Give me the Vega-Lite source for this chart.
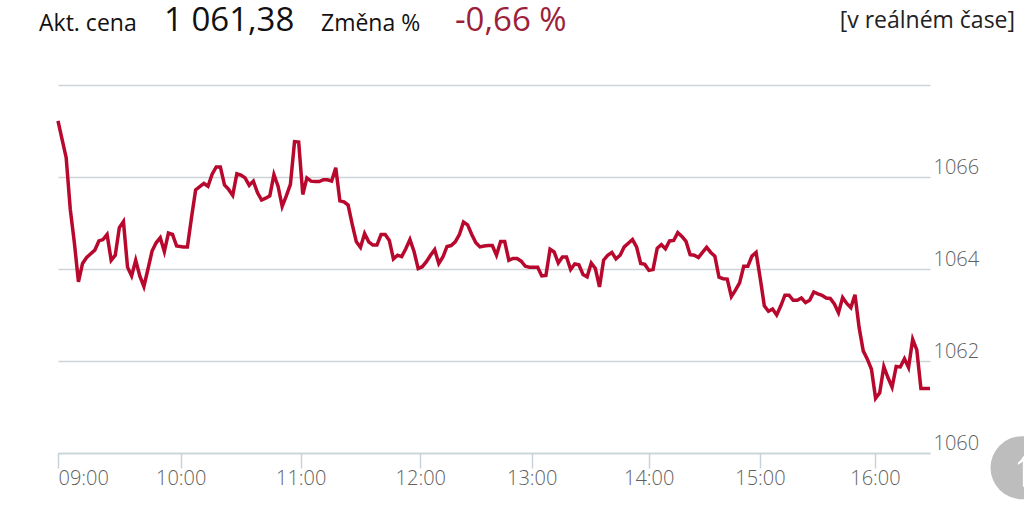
{"$schema":"https://vega.github.io/schema/vega-lite/v6.json","width":872,"height":368,"autosize":{"type":"none"},"padding":{"left":58,"top":85,"right":94,"bottom":53},"background":"white","config":{"view":{"stroke":null},"font":"Open Sans"},
"encoding":{"x":{"field":"m","type":"quantitative","title":null,"scale":{"domain":[540,600,987.9],"range":[0,122.7,872],"nice":false,"zero":false},"axis":{"orient":"bottom","values":[540,600,662.12,724.04,781.71,842.27,899.89,959.42],"labelExpr":"(datum.value<570?'0':'')+round(datum.value/60)+':00'","grid":false,"domain":true,"domainColor":"#c8d2d8","domainWidth":1.5,"tickColor":"#c8d2d8","tickWidth":1.5,"tickSize":15,"labelFontSize":20,"labelColor":"#5f5f5f","labelFontWeight":300,"labelPadding":0,"labelFlush":true,"labelOverlap":false}},
"y":{"field":"p","type":"quantitative","title":null,"scale":{"domain":[1060,1068],"nice":false,"zero":false},"axis":{"orient":"right","values":[1060,1062,1064,1066,1068],"labelExpr":"datum.value<1068?format(datum.value,'d'):''","grid":true,"gridColor":"#ccd4d8","gridWidth":1.5,"domain":false,"ticks":false,"labelFontSize":20,"labelColor":"#5f5f5f","labelFontWeight":300,"labelPadding":3,"labelBaseline":"bottom","labelOffset":0}}},
"layer":[
{"data":{"name":"prices","values":[
{"m":540,"p":1067.22},{"m":542,"p":1066.82},{"m":544,"p":1066.42},{"m":546,"p":1065.3},{"m":548,"p":1064.57},{"m":550,"p":1063.72},{"m":552,"p":1064.12},{"m":554,"p":1064.25},{"m":556,"p":1064.33},{"m":558,"p":1064.41},{"m":560,"p":1064.61},{"m":562,"p":1064.64},{"m":564,"p":1064.75},{"m":566,"p":1064.19},{"m":568,"p":1064.3},{"m":570,"p":1064.9},{"m":572,"p":1065.03},{"m":574,"p":1064.04},{"m":576,"p":1063.85},{"m":578,"p":1064.19},{"m":580,"p":1063.85},{"m":582,"p":1063.62},{"m":584,"p":1064.0},{"m":586,"p":1064.39},{"m":588,"p":1064.57},{"m":590,"p":1064.68},{"m":592,"p":1064.38},{"m":594,"p":1064.78},{"m":596,"p":1064.75},{"m":598,"p":1064.5},
{"m":601.33,"p":1064.48},{"m":603.47,"p":1064.48},{"m":605.6,"p":1065.12},{"m":607.73,"p":1065.72},{"m":609.87,"p":1065.79},{"m":612,"p":1065.86},{"m":614.13,"p":1065.8},{"m":616.27,"p":1066.06},{"m":618.4,"p":1066.22},{"m":620.53,"p":1066.22},{"m":622.67,"p":1065.83},{"m":624.8,"p":1065.73},{"m":626.93,"p":1065.6},{"m":629.07,"p":1066.07},{"m":631.2,"p":1066.04},
{"m":633.33,"p":1065.98},{"m":635.47,"p":1065.82},{"m":637.6,"p":1065.91},{"m":639.73,"p":1065.66},{"m":641.87,"p":1065.5},{"m":644,"p":1065.54},{"m":646.13,"p":1065.59},{"m":648.27,"p":1066.05},{"m":650.4,"p":1065.8},{"m":652.53,"p":1065.36},{"m":654.67,"p":1065.59},{"m":656.8,"p":1065.84},{"m":658.93,"p":1066.77},{"m":661.07,"p":1066.76},{"m":663.2,"p":1065.62},
{"m":665.33,"p":1065.98},{"m":667.47,"p":1065.91},{"m":669.6,"p":1065.9},{"m":671.73,"p":1065.9},{"m":673.87,"p":1065.94},{"m":676,"p":1065.94},{"m":678.13,"p":1065.91},{"m":680.27,"p":1066.2},{"m":682.4,"p":1065.48},{"m":684.53,"p":1065.46},{"m":686.67,"p":1065.39},{"m":688.8,"p":1064.97},{"m":690.93,"p":1064.59},{"m":693.07,"p":1064.47},{"m":695.2,"p":1064.77},
{"m":697.33,"p":1064.59},{"m":699.47,"p":1064.52},{"m":701.6,"p":1064.52},{"m":703.73,"p":1064.75},{"m":705.87,"p":1064.75},{"m":708,"p":1064.62},{"m":710.13,"p":1064.22},{"m":712.27,"p":1064.3},{"m":714.4,"p":1064.27},{"m":716.53,"p":1064.44},{"m":718.67,"p":1064.64},{"m":720.8,"p":1064.38},{"m":722.93,"p":1064.01},{"m":725.07,"p":1064.05},{"m":727.2,"p":1064.16},
{"m":729.33,"p":1064.3},{"m":731.47,"p":1064.42},{"m":733.6,"p":1064.12},{"m":735.73,"p":1064.26},{"m":737.87,"p":1064.49},{"m":740,"p":1064.51},{"m":742.13,"p":1064.59},{"m":744.27,"p":1064.75},{"m":746.4,"p":1065.02},{"m":748.53,"p":1064.96},{"m":750.67,"p":1064.75},{"m":752.8,"p":1064.57},{"m":754.93,"p":1064.48},{"m":757.07,"p":1064.5},{"m":759.2,"p":1064.51},
{"m":761.33,"p":1064.51},{"m":763.47,"p":1064.3},{"m":765.6,"p":1064.6},{"m":767.73,"p":1064.6},{"m":769.87,"p":1064.19},{"m":772,"p":1064.23},{"m":774.13,"p":1064.23},{"m":776.27,"p":1064.17},{"m":778.4,"p":1064.06},{"m":780.53,"p":1064.04},{"m":782.67,"p":1064.04},{"m":784.8,"p":1064.04},{"m":786.93,"p":1063.85},{"m":789.07,"p":1063.86},{"m":791.2,"p":1064.43},
{"m":793.33,"p":1064.37},{"m":795.47,"p":1064.13},{"m":797.6,"p":1064.26},{"m":799.73,"p":1064.26},{"m":801.87,"p":1063.99},{"m":804,"p":1064.11},{"m":806.13,"p":1064.09},{"m":808.27,"p":1063.88},{"m":810.4,"p":1063.83},{"m":812.53,"p":1064.13},{"m":814.67,"p":1064.01},{"m":816.8,"p":1063.61},{"m":818.93,"p":1064.19},{"m":821.07,"p":1064.3},{"m":823.2,"p":1064.36},
{"m":825.33,"p":1064.22},{"m":827.47,"p":1064.3},{"m":829.6,"p":1064.48},{"m":831.73,"p":1064.56},{"m":833.87,"p":1064.64},{"m":836,"p":1064.48},{"m":838.13,"p":1064.12},{"m":840.27,"p":1064.1},{"m":842.4,"p":1063.97},{"m":844.53,"p":1063.99},{"m":846.67,"p":1064.45},{"m":848.8,"p":1064.53},{"m":850.93,"p":1064.44},{"m":853.07,"p":1064.61},{"m":855.2,"p":1064.62},
{"m":857.33,"p":1064.79},{"m":859.47,"p":1064.71},{"m":861.6,"p":1064.6},{"m":863.73,"p":1064.31},{"m":865.87,"p":1064.3},{"m":868,"p":1064.25},{"m":870.13,"p":1064.36},{"m":872.27,"p":1064.47},{"m":874.4,"p":1064.36},{"m":876.53,"p":1064.28},{"m":878.67,"p":1063.82},{"m":880.8,"p":1063.79},{"m":882.93,"p":1063.78},{"m":885.07,"p":1063.4},{"m":887.2,"p":1063.54},
{"m":889.33,"p":1063.7},{"m":891.47,"p":1064.06},{"m":893.6,"p":1064.06},{"m":895.73,"p":1064.28},{"m":897.87,"p":1064.36},{"m":900,"p":1063.8},{"m":902.13,"p":1063.2},{"m":904.27,"p":1063.08},{"m":906.4,"p":1063.13},{"m":908.53,"p":1063.0},{"m":910.67,"p":1063.2},{"m":912.8,"p":1063.43},{"m":914.93,"p":1063.43},{"m":917.07,"p":1063.32},{"m":919.2,"p":1063.32},
{"m":921.33,"p":1063.37},{"m":923.47,"p":1063.27},{"m":925.6,"p":1063.32},{"m":927.73,"p":1063.5},{"m":929.87,"p":1063.46},{"m":932,"p":1063.43},{"m":934.13,"p":1063.37},{"m":936.27,"p":1063.36},{"m":938.4,"p":1063.24},{"m":940.53,"p":1063.05},{"m":942.67,"p":1063.38},{"m":944.8,"p":1063.25},{"m":946.93,"p":1063.16},{"m":949.07,"p":1063.44},{"m":951.2,"p":1062.73},
{"m":953.33,"p":1062.22},{"m":955.47,"p":1062.04},{"m":957.6,"p":1061.82},{"m":959.73,"p":1061.19},{"m":961.87,"p":1061.31},{"m":964,"p":1061.88},{"m":966.13,"p":1061.64},{"m":968.27,"p":1061.43},{"m":970.4,"p":1061.88},{"m":972.53,"p":1061.87},{"m":974.67,"p":1062.05},{"m":976.8,"p":1061.86},{"m":978.93,"p":1062.47},{"m":981.07,"p":1062.24},{"m":983.2,"p":1061.4},
{"m":985.33,"p":1061.4},{"m":987.9,"p":1061.4}]},
"mark":{"type":"line","color":"#b8082e","strokeWidth":3.5,"strokeJoin":"miter","interpolate":"linear"}},
{"data":{"values":[{"m":530.72,"p":1069.17,"label":"Akt. cena"},{"m":672.63,"p":1069.17,"label":"Změna %"}]},"mark":{"type":"text","align":"left","baseline":"alphabetic","fontSize":23,"color":"#111111"},"encoding":{"text":{"field":"label"}}},
{"data":{"values":[{"m":591.83,"p":1069.17,"label":"1 061,38"}]},"mark":{"type":"text","align":"left","baseline":"alphabetic","fontSize":33,"color":"#111111"},"encoding":{"text":{"field":"label"}}},
{"data":{"values":[{"m":742,"p":1069.17,"label":"-0,66 %"}]},"mark":{"type":"text","align":"left","baseline":"alphabetic","fontSize":33,"color":"#9c1f3c"},"encoding":{"text":{"field":"label"}}},
{"data":{"values":[{"m":1031.92,"p":1069.24,"label":"[v reálném čase]"}]},"mark":{"type":"text","align":"right","baseline":"alphabetic","fontSize":23,"color":"#222222"},"encoding":{"text":{"field":"label"}}},
{"data":{"values":[{"m":1035.53,"p":1059.68}]},"mark":{"type":"point","shape":"circle","filled":true,"size":3969,"color":"#bdbdbd","opacity":1}},
{"data":{"values":[{"m":1036.56,"p":1059.66,"label":"↑"}]},"mark":{"type":"text","align":"center","baseline":"middle","fontSize":52,"fontWeight":"bold","color":"#ffffff"},"encoding":{"text":{"field":"label"}}}
]}
